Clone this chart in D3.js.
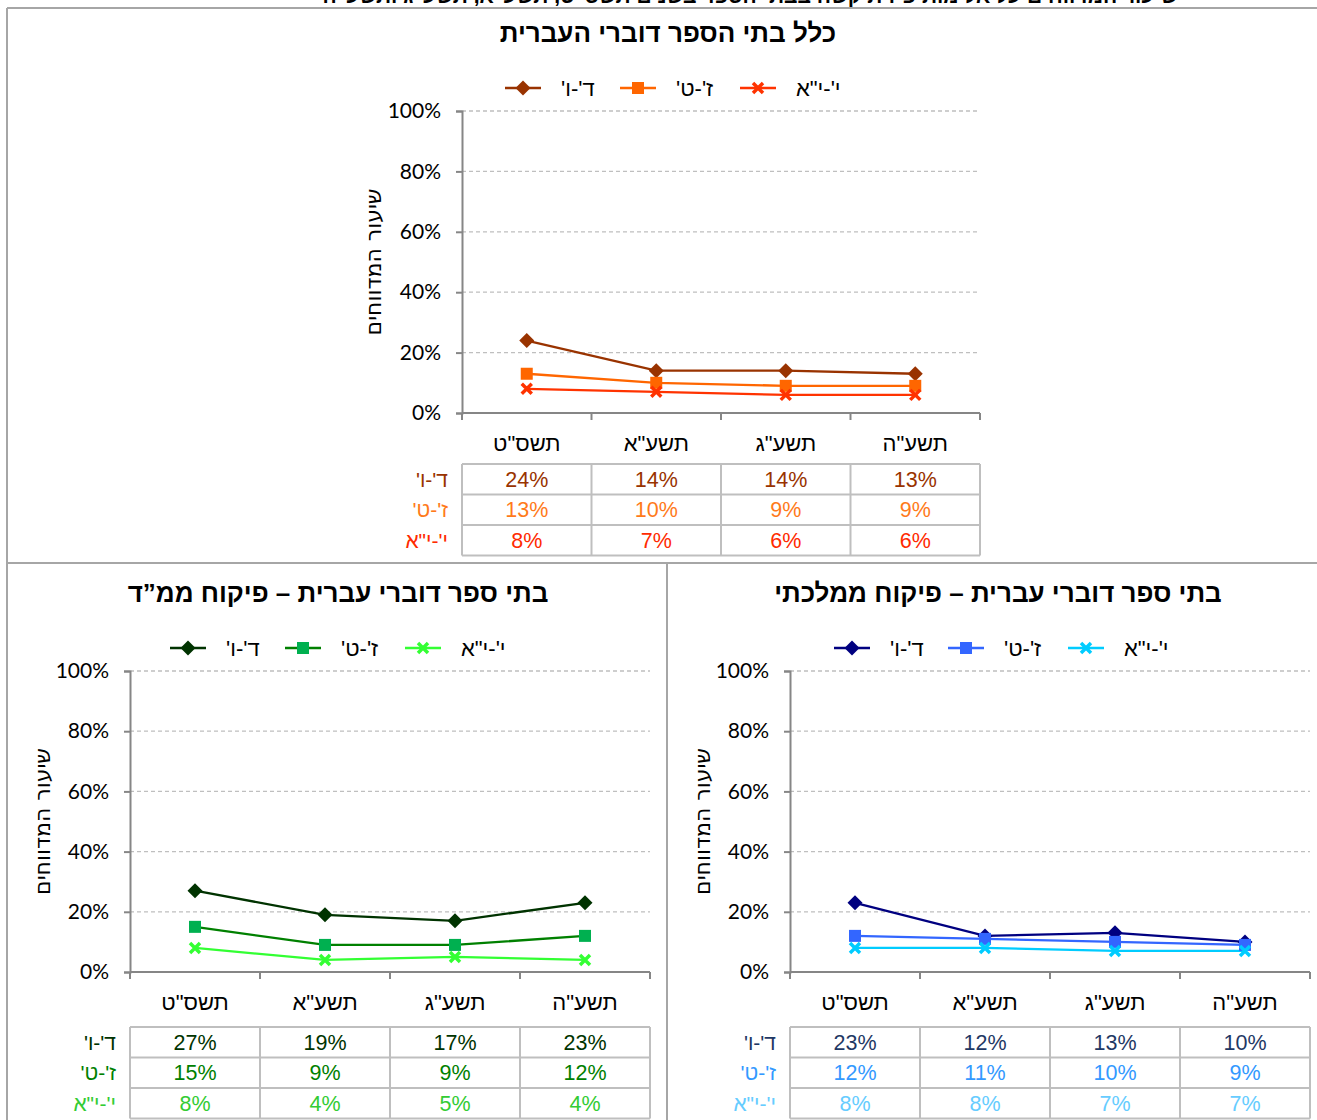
<!DOCTYPE html>
<html>
<head>
<meta charset="utf-8">
<script src="https://cdn.jsdelivr.net/npm/d3@7"></script>
<style>
  body { margin: 0; background: #fff; }
  svg { display: block; font-family: "Liberation Sans", Arial, sans-serif; }
</style>
</head>
<body>
<script>
// data
var years = ['תשס"ט', 'תשע"א', 'תשע"ג', 'תשע"ה'];
var grades = ["ד'-ו'", "ז'-ט'", "י'-י\"א"];
var allSchools = [[24, 14, 14, 13], [13, 10, 9, 9], [8, 7, 6, 6]];
var stateSchools = [[23, 12, 13, 10], [12, 11, 10, 9], [8, 8, 7, 7]];
var religiousSchools = [[27, 19, 17, 23], [15, 9, 9, 12], [8, 4, 5, 4]];
var yTicks = [0, 20, 40, 60, 80, 100];
var markers = ["diamond", "square", "cross"];

var svg = d3.select("body").append("svg")
  .attr("width", 1317)
  .attr("height", 1120);

// frame lines
var frame = svg.append("g").attr("stroke", "#a6a6a6").attr("stroke-width", 2);
[[7, 8, 1317, 8], [7, 8, 7, 1120], [7, 563, 1317, 563], [667, 563, 667, 1120]].forEach(function(l) {
  frame.append("line").attr("x1", l[0]).attr("y1", l[1]).attr("x2", l[2]).attr("y2", l[3]);
});

// heading, cut off by the top edge as in the source
svg.append("text")
  .attr("x", 750).attr("y", 3)
  .attr("text-anchor", "middle")
  .attr("direction", "rtl")
  .style("font-size", "21px").style("font-weight", "bold")
  .text('שיעור המדווחים על אלימות פיזית קשה בבתי הספר בשנים תשס"ט, תשע"א, תשע"ג ותשע"ה');

function drawPanel(opt) {
  var g = svg.append("g");
  var x = d3.scaleBand().domain(years).range([opt.left, opt.right]);
  var y = d3.scaleLinear().domain([0, 100]).range([opt.bottom, opt.top]);

  g.append("text")
    .attr("x", opt.titleX).attr("y", opt.top - 78)
    .attr("dy", "0.35em")
    .attr("text-anchor", "middle").attr("direction", "rtl")
    .style("font-size", "26px").style("font-weight", "bold")
    .text(opt.title);

  // grid
  g.append("g").selectAll("line")
    .data(yTicks.slice(1))
    .enter().append("line")
      .attr("x1", opt.left).attr("x2", opt.right)
      .attr("y1", function(d) { return y(d); }).attr("y2", function(d) { return y(d); })
      .attr("stroke", "#bfbfbf").attr("stroke-width", 1.3).attr("stroke-dasharray", "4,3");

  // y axis
  var yAxis = g.append("g")
    .attr("transform", "translate(" + opt.left + ",0)")
    .call(d3.axisLeft(y).tickValues(yTicks).tickFormat(function(d) { return d + "%"; }).tickSize(6).tickPadding(15));
  yAxis.select(".domain").attr("stroke", "#868686").attr("stroke-width", 2);
  yAxis.selectAll(".tick line").attr("stroke", "#868686").attr("stroke-width", 2);
  yAxis.selectAll("text").attr("fill", "#000").style("font-size", "21px").style("font-family", "Lato, 'Liberation Sans', sans-serif");

  // x axis with ticks at band edges
  var xAxis = g.append("g").attr("transform", "translate(0," + opt.bottom + ")");
  xAxis.append("line").attr("x1", opt.left).attr("x2", opt.right)
    .attr("stroke", "#868686").attr("stroke-width", 2);
  xAxis.selectAll("line.edge")
    .data(years.concat(["end"]))
    .enter().append("line").attr("class", "edge")
      .attr("x1", function(d, i) { return opt.left + i * x.bandwidth(); })
      .attr("x2", function(d, i) { return opt.left + i * x.bandwidth(); })
      .attr("y1", 0).attr("y2", 7)
      .attr("stroke", "#868686").attr("stroke-width", 2);
  xAxis.selectAll("text")
    .data(years)
    .enter().append("text")
      .attr("x", function(d) { return x(d) + x.bandwidth() / 2; })
      .attr("y", 30).attr("dy", "0.35em")
      .attr("text-anchor", "middle").attr("direction", "rtl")
      .style("font-size", "22px")
      .text(function(d) { return d; });

  // y title
  g.append("text")
    .attr("transform", "translate(" + opt.yTitleX + "," + (opt.top + opt.bottom) / 2 + ") rotate(-90)")
    .attr("text-anchor", "middle").attr("direction", "rtl").attr("dy", "0.35em")
    .style("font-family", "'DejaVu Sans', sans-serif").style("font-size", "22px")
    .text("שיעור המדווחים");

  function marker(sel, type, color) {
    if (type === "diamond") {
      sel.append("path").attr("d", "M0,-7.5L7.5,0L0,7.5L-7.5,0Z").attr("fill", color);
    } else if (type === "square") {
      sel.append("rect").attr("x", -6).attr("y", -6).attr("width", 12).attr("height", 12).attr("fill", color);
    } else {
      sel.append("path").attr("d", "M-5,-5L5,5M5,-5L-5,5").attr("stroke", color).attr("stroke-width", 3.5);
    }
  }

  var line = d3.line()
    .x(function(d, i) { return x(years[i]) + x.bandwidth() / 2; })
    .y(function(d) { return y(d); });

  opt.values.forEach(function(vals, s) {
    g.append("path").datum(vals)
      .attr("d", line)
      .attr("fill", "none")
      .attr("stroke", opt.lineColors[s]).attr("stroke-width", 2.3);
  });
  opt.values.forEach(function(vals, s) {
    vals.forEach(function(v, i) {
      var m = g.append("g").attr("transform", "translate(" + (x(years[i]) + x.bandwidth() / 2) + "," + y(v) + ")");
      marker(m, markers[s], opt.markerColors[s]);
    });
  });

  // legend
  var lg = g.append("g").attr("transform", "translate(0," + (opt.top - 23) + ")");
  grades.forEach(function(name, s) {
    var x0 = opt.legendX[s];
    lg.append("line").attr("x1", x0).attr("x2", x0 + 36).attr("y1", 0).attr("y2", 0)
      .attr("stroke", opt.lineColors[s]).attr("stroke-width", 2.3);
    var m = lg.append("g").attr("transform", "translate(" + (x0 + 18) + ",0)");
    marker(m, markers[s], opt.markerColors[s]);
    lg.append("text")
      .attr("x", x0 + 56).attr("y", 0).attr("dy", "0.35em")
      .attr("direction", "rtl").attr("text-anchor", "end")
      .style("font-size", "22px")
      .text(name);
  });

  // data table
  var rowH = 30.5;
  var t0 = opt.bottom + opt.tableGap;
  var tg = g.append("g");
  grades.forEach(function(name, s) {
    tg.append("text")
      .attr("x", opt.left - 14).attr("y", t0 + s * rowH + rowH / 2).attr("dy", "0.35em")
      .attr("direction", "rtl").attr("text-anchor", "start")
      .attr("fill", opt.tableColors[s])
      .style("font-size", "21px")
      .text(name);
    opt.values[s].forEach(function(v, i) {
      tg.append("text")
        .attr("x", x(years[i]) + x.bandwidth() / 2).attr("y", t0 + s * rowH + rowH / 2).attr("dy", "0.35em")
        .attr("text-anchor", "middle")
        .attr("fill", opt.tableColors[s])
        .style("font-size", "21.5px")
        .text(v + "%");
    });
  });
  var tb = tg.append("g").attr("stroke", "#bfbfbf").attr("stroke-width", 2);
  d3.range(4).forEach(function(r) {
    tb.append("line").attr("x1", opt.left).attr("x2", opt.right)
      .attr("y1", t0 + r * rowH).attr("y2", t0 + r * rowH);
  });
  d3.range(5).forEach(function(c) {
    var cx = opt.left + c * x.bandwidth();
    tb.append("line").attr("x1", cx).attr("x2", cx).attr("y1", t0).attr("y2", t0 + 3 * rowH);
  });
}

drawPanel({
  title: "כלל בתי הספר דוברי העברית",
  titleX: 668,
  left: 462, right: 980, top: 111, bottom: 413,
  tableGap: 51,
  yTitleX: 373,
  legendX: [505, 620, 740],
  values: allSchools,
  lineColors: ["#993300", "#ff6600", "#ff3300"],
  markerColors: ["#993300", "#ff6600", "#ff3300"],
  tableColors: ["#993300", "#ff7a1a", "#ff2a00"]
});

drawPanel({
  title: "בתי ספר דוברי עברית – פיקוח ממ”ד",
  titleX: 338,
  left: 130, right: 650, top: 671, bottom: 972,
  tableGap: 55,
  yTitleX: 42,
  legendX: [170, 285, 405],
  values: religiousSchools,
  lineColors: ["#003300", "#008000", "#33ff33"],
  markerColors: ["#003300", "#00b050", "#33ff33"],
  tableColors: ["#003300", "#008000", "#33cc33"]
});

drawPanel({
  title: "בתי ספר דוברי עברית – פיקוח ממלכתי",
  titleX: 998,
  left: 790, right: 1310, top: 671, bottom: 972,
  tableGap: 55,
  yTitleX: 702,
  legendX: [834, 948, 1068],
  values: stateSchools,
  lineColors: ["#000080", "#3366ff", "#00ccff"],
  markerColors: ["#000080", "#3366ff", "#00ccff"],
  tableColors: ["#1f3864", "#3399ff", "#66ccff"]
});
</script>
</body>
</html>
